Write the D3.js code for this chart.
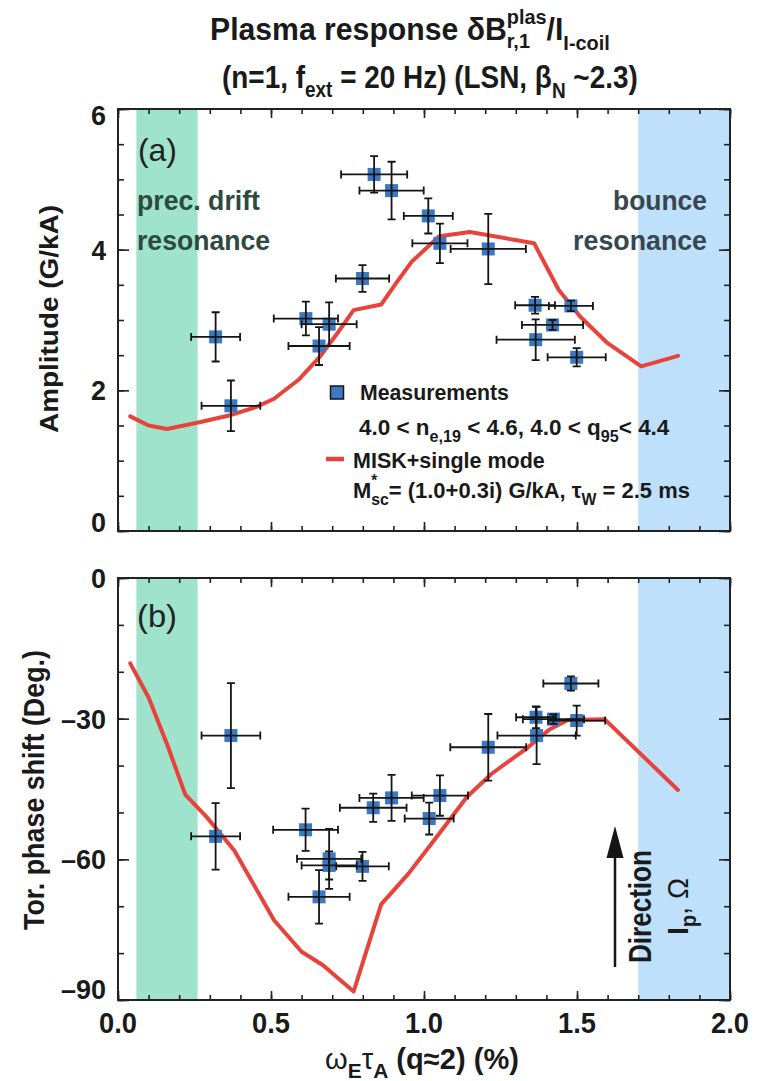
<!DOCTYPE html>
<html>
<head>
<meta charset="utf-8">
<script src="https://cdn.jsdelivr.net/npm/d3@7"></script>
<style>
  body { margin: 0; background: #fff; }
  svg { display: block; }
  text { font-family: "Liberation Sans", Arial, Helvetica, sans-serif; }
</style>
</head>
<body>
<div id="chart"></div>
<script>
// measured amplitude (panel a)
var ampX    = [0.319, 0.369, 0.614, 0.690, 0.657, 0.799, 0.837, 0.894, 1.014, 1.052, 1.210, 1.363, 1.480, 1.420, 1.365, 1.499];
var ampY    = [2.76, 1.78, 3.02, 2.94, 2.63, 3.59, 5.07, 4.84, 4.48, 4.09, 4.01, 3.21, 3.20, 2.93, 2.72, 2.47];
var ampXErr = [0.080, 0.096, 0.105, 0.090, 0.100, 0.087, 0.108, 0.105, 0.080, 0.090, 0.123, 0.065, 0.072, 0.100, 0.128, 0.095];
var ampYErr = [0.35, 0.36, 0.24, 0.31, 0.27, 0.19, 0.26, 0.41, 0.25, 0.28, 0.50, 0.12, 0.075, 0.07, 0.29, 0.13];

// measured toroidal phase shift (panel b)
var phX    = [0.369, 0.319, 0.613, 0.690, 0.690, 0.657, 0.799, 0.834, 0.894, 1.017, 1.052, 1.210, 1.366, 1.423, 1.480, 1.368, 1.499];
var phY    = [-33.6, -55.1, -53.7, -59.9, -61.3, -68.0, -61.5, -49.0, -46.9, -51.3, -46.4, -36.1, -29.7, -30.1, -22.5, -33.6, -30.4];
var phXErr = [0.096, 0.080, 0.106, 0.105, 0.090, 0.100, 0.086, 0.109, 0.105, 0.080, 0.092, 0.124, 0.065, 0.100, 0.090, 0.128, 0.093];
var phYErr = [11.2, 7.1, 4.5, 6.4, 3.0, 5.7, 3.1, 3.0, 4.9, 3.4, 4.3, 7.1, 2.3, 1.0, 1.5, 6.1, 3.2];

// MISK + single mode model curves
var modelAX = [0.04, 0.10, 0.16, 0.27, 0.37, 0.45, 0.51, 0.59, 0.66, 0.72, 0.77, 0.86, 0.91, 0.96, 1.05, 1.15, 1.23, 1.36, 1.44, 1.51, 1.60, 1.71, 1.83];
var modelAY = [1.63, 1.50, 1.45, 1.55, 1.65, 1.76, 1.88, 2.15, 2.48, 2.83, 3.14, 3.22, 3.53, 3.83, 4.19, 4.25, 4.19, 4.09, 3.43, 3.05, 2.67, 2.34, 2.49];
var modelBX = [0.04, 0.10, 0.16, 0.22, 0.29, 0.38, 0.51, 0.60, 0.67, 0.77, 0.86, 0.95, 1.05, 1.14, 1.22, 1.34, 1.41, 1.47, 1.59, 1.83];
var modelBY = [-18.2, -25.5, -35.4, -46.2, -51.0, -58.1, -73.0, -79.7, -82.6, -88.2, -69.6, -63.0, -54.5, -46.7, -41.8, -36.1, -32.3, -30.3, -30.1, -45.2];

// resonance bands (x range)
var precBand   = [0.06, 0.26];
var bounceBand = [1.70, 2.00];

// tick labels
var xTicks = [0, 0.5, 1.0, 1.5, 2.0];
var xTickLabels = ['0.0', '0.5', '1.0', '1.5', '2.0'];
var ampTicks = [0, 2, 4, 6];
var ampTickLabels = ['0', '2', '4', '6'];
var phTicks = [-90, -60, -30, 0];
var phTickLabels = ['\u201390', '\u201360', '\u201330', '0'];

var W = 761, H = 1081;
var svg = d3.select('#chart').append('svg').attr('width', W).attr('height', H);

var x = d3.scaleLinear().domain([0, 2]).range([118, 730]);

// text with sub/superscripts, squeezed to a target width
function richText(parent, px, py, segs, o) {
  var g = parent.append('g');
  var t = g.append('text')
    .attr('font-size', o.size)
    .attr('font-weight', o.weight || 'bold')
    .attr('fill', o.fill || '#1a1a1a')
    .attr('text-anchor', o.anchor || 'start');
  var lastW = 0, pending = 0;
  segs.forEach(function(s) {
    var sp = t.append('tspan').text(s.t).attr('y', s.dy || 0);
    if (s.fs) sp.attr('font-size', o.size * s.fs);
    if (s.w) sp.attr('font-weight', s.w);
    var w = sp.node().getComputedTextLength();
    if (s.back) {
      sp.attr('dx', -lastW);
      pending = Math.max(0, lastW - w);
    } else if (pending) {
      sp.attr('dx', pending);
      pending = 0;
    }
    lastW = w;
  });
  var sx = 1;
  if (o.width) sx = o.width / t.node().getBBox().width;
  g.attr('transform', 'translate(' + px + ',' + py + ') rotate(' + (o.rotate || 0) + ') scale(' + sx + ',1)');
  return g;
}

function drawPanel(o) {
  var g = svg.append('g');
  var y = d3.scaleLinear().domain(o.domain).range([o.bottom, o.top]);

  // bands
  g.append('rect')
    .attr('x', x(precBand[0])).attr('width', x(precBand[1]) - x(precBand[0]))
    .attr('y', o.top).attr('height', o.bottom - o.top)
    .attr('fill', '#9fe3cc');
  g.append('rect')
    .attr('x', x(bounceBand[0])).attr('width', x(bounceBand[1]) - x(bounceBand[0]))
    .attr('y', o.top).attr('height', o.bottom - o.top)
    .attr('fill', '#bfe0fa');

  // model curve
  g.append('path')
    .datum(d3.zip(o.mx, o.my))
    .attr('d', d3.line().x(function(d) { return x(d[0]); }).y(function(d) { return y(d[1]); }))
    .attr('fill', 'none')
    .attr('stroke', '#e8433b')
    .attr('stroke-width', 4)
    .attr('stroke-linejoin', 'round')
    .attr('stroke-linecap', 'round');

  // measurements
  var pts = o.px.map(function(v, i) {
    return { x: v, y: o.py[i], ex: o.pex[i], ey: o.pey[i] };
  });
  g.selectAll('rect.meas').data(pts).join('rect')
    .attr('class', 'meas')
    .attr('x', function(d) { return x(d.x) - 6.5; })
    .attr('y', function(d) { return y(d.y) - 6.5; })
    .attr('width', 13).attr('height', 13)
    .attr('fill', '#3b79c3');

  g.append('g')
    .attr('stroke', '#151515').attr('stroke-width', 1.8).attr('fill', 'none')
    .selectAll('path').data(pts).join('path')
    .attr('d', function(d) {
      var cx = x(d.x), cy = y(d.y), c = 4;
      var x0 = x(d.x - d.ex), x1 = x(d.x + d.ex);
      var y0 = y(d.y - d.ey), y1 = y(d.y + d.ey);
      return 'M' + x0 + ',' + cy + 'H' + x1 +
        'M' + x0 + ',' + (cy - c) + 'V' + (cy + c) +
        'M' + x1 + ',' + (cy - c) + 'V' + (cy + c) +
        'M' + cx + ',' + y0 + 'V' + y1 +
        'M' + (cx - c) + ',' + y0 + 'H' + (cx + c) +
        'M' + (cx - c) + ',' + y1 + 'H' + (cx + c);
    });

  // frame
  g.append('rect')
    .attr('x', x(0)).attr('y', o.top)
    .attr('width', x(2) - x(0)).attr('height', o.bottom - o.top)
    .attr('fill', 'none').attr('stroke', '#222').attr('stroke-width', 2);

  // inward ticks on all four sides
  function tk(axis, tr) {
    var a = g.append('g').attr('transform', tr).call(axis);
    a.select('.domain').remove();
    a.selectAll('text').remove();
    a.selectAll('line').attr('stroke', '#222').attr('stroke-width', 1.6);
  }
  var xMinor = x.ticks(20);
  tk(d3.axisBottom(x).tickValues(xMinor).tickSize(-5), 'translate(0,' + o.bottom + ')');
  tk(d3.axisBottom(x).tickValues(xTicks).tickSize(-9), 'translate(0,' + o.bottom + ')');
  tk(d3.axisTop(x).tickValues(xMinor).tickSize(-5), 'translate(0,' + o.top + ')');
  tk(d3.axisTop(x).tickValues(xTicks).tickSize(-9), 'translate(0,' + o.top + ')');
  var yMinor = y.ticks(o.minorCount);
  tk(d3.axisLeft(y).tickValues(yMinor).tickSize(-6), 'translate(' + x(0) + ',0)');
  tk(d3.axisLeft(y).tickValues(o.ticks).tickSize(-11), 'translate(' + x(0) + ',0)');
  tk(d3.axisRight(y).tickValues(yMinor).tickSize(-6), 'translate(' + x(2) + ',0)');
  tk(d3.axisRight(y).tickValues(o.ticks).tickSize(-11), 'translate(' + x(2) + ',0)');

  // y tick labels (condensed)
  o.ticks.forEach(function(d, i) {
    var lbl = o.tickLabels[i];
    richText(g, 106, y(d) + o.labelShift[i] + 10, [{ t: lbl }],
      { size: 28, anchor: 'end', width: o.labelWidth * lbl.length / 3 });
  });

  return y;
}

// panel (a)
drawPanel({
  domain: [0, 6], top: 109, bottom: 531,
  mx: modelAX, my: modelAY,
  px: ampX, py: ampY, pex: ampXErr, pey: ampYErr,
  ticks: ampTicks, tickLabels: ampTickLabels, minorCount: 12,
  labelShift: [-9, 0, 0, 6], labelWidth: 45
});

// panel (b)
drawPanel({
  domain: [-90, 0], top: 578, bottom: 1000,
  mx: modelBX, my: modelBY,
  px: phX, py: phY, pex: phXErr, pey: phYErr,
  ticks: phTicks, tickLabels: phTickLabels, minorCount: 9,
  labelShift: [-11, 0, 0, 0], labelWidth: 45
});

// x tick labels (condensed)
xTicks.forEach(function(d, i) {
  richText(svg, x(d), 1033, [{ t: xTickLabels[i] }], { size: 30, anchor: 'middle', width: 38 });
});

// titles
richText(svg, 210, 40, [
  { t: 'Plasma response \u03B4B' },
  { t: 'plas', fs: 0.66, dy: -16 },
  { t: 'r,1', fs: 0.66, dy: 8, back: true },
  { t: '/I' },
  { t: 'I-coil', fs: 0.66, dy: 10 }
], { size: 32, width: 400 });

richText(svg, 222, 88, [
  { t: '(n=1, f' },
  { t: 'ext', fs: 0.68, dy: 9 },
  { t: ' = 20 Hz) (LSN, \u03B2' },
  { t: 'N', fs: 0.68, dy: 10 },
  { t: ' ~2.3)' }
], { size: 32, width: 416 });

// axis titles
richText(svg, 58, 319, [{ t: 'Amplitude (G/kA)' }], { size: 26, anchor: 'middle', rotate: -90, width: 228 });
richText(svg, 44, 790, [{ t: 'Tor. phase shift (Deg.)' }], { size: 30, anchor: 'middle', rotate: -90, width: 280 });
richText(svg, 325, 1069, [
  { t: '\u03C9', w: 'normal' },
  { t: 'E', fs: 0.72, dy: 9 },
  { t: '\u03C4', w: 'normal' },
  { t: 'A', fs: 0.72, dy: 9 },
  { t: ' (q\u22482) (%)' }
], { size: 29, width: 194 });

// panel labels
richText(svg, 138, 161, [{ t: '(a)' }], { size: 31, weight: 'normal', fill: '#222', width: 39 });
richText(svg, 137, 627, [{ t: '(b)' }], { size: 31, weight: 'normal', fill: '#222', width: 40 });

// resonance labels
richText(svg, 137, 210, [{ t: 'prec. drift' }], { size: 28, fill: '#2d4a3f', width: 123 });
richText(svg, 137, 250, [{ t: 'resonance' }], { size: 28, fill: '#2d4a3f', width: 133 });
richText(svg, 707, 210, [{ t: 'bounce' }], { size: 28, fill: '#37474f', anchor: 'end', width: 94 });
richText(svg, 707, 250, [{ t: 'resonance' }], { size: 28, fill: '#37474f', anchor: 'end', width: 134 });

// legend
svg.append('rect').attr('x', 330.5).attr('y', 386).attr('width', 13).attr('height', 13)
  .attr('fill', '#3b79c3').attr('stroke', '#151515').attr('stroke-width', 1.5);
richText(svg, 360, 400, [{ t: 'Measurements' }], { size: 22.5, width: 149 });
richText(svg, 359, 435, [
  { t: '4.0 < n' },
  { t: 'e,19', fs: 0.72, dy: 7 },
  { t: ' < 4.6, 4.0 < q' },
  { t: '95', fs: 0.72, dy: 7 },
  { t: '< 4.4' }
], { size: 22.5, width: 311 });
svg.append('line').attr('x1', 326).attr('x2', 344).attr('y1', 459).attr('y2', 459)
  .attr('stroke', '#e8433b').attr('stroke-width', 4.5);
richText(svg, 353, 468, [{ t: 'MISK+single mode' }], { size: 22.5, width: 192 });
richText(svg, 353, 498, [
  { t: 'M' },
  { t: '*', fs: 0.7, dy: -12 },
  { t: 'sc', fs: 0.72, dy: 7, back: true },
  { t: '= (1.0+0.3i) G/kA, \u03C4' },
  { t: 'W', fs: 0.72, dy: 7 },
  { t: ' = 2.5 ms' }
], { size: 22.5, width: 337 });

// direction arrow
svg.append('line').attr('x1', 615).attr('x2', 615).attr('y1', 967).attr('y2', 850)
  .attr('stroke', '#151515').attr('stroke-width', 2.5);
svg.append('path').attr('d', 'M615,826L623.5,858L606.5,858Z').attr('fill', '#151515');
richText(svg, 651, 963, [{ t: 'Direction' }], { size: 31, rotate: -90, width: 113 });
richText(svg, 688, 935, [
  { t: 'I' },
  { t: 'p', fs: 0.72, dy: 8 },
  { t: ', \u03A9', w: 'normal' }
], { size: 30, rotate: -90, width: 57 });
</script>
</body>
</html>
